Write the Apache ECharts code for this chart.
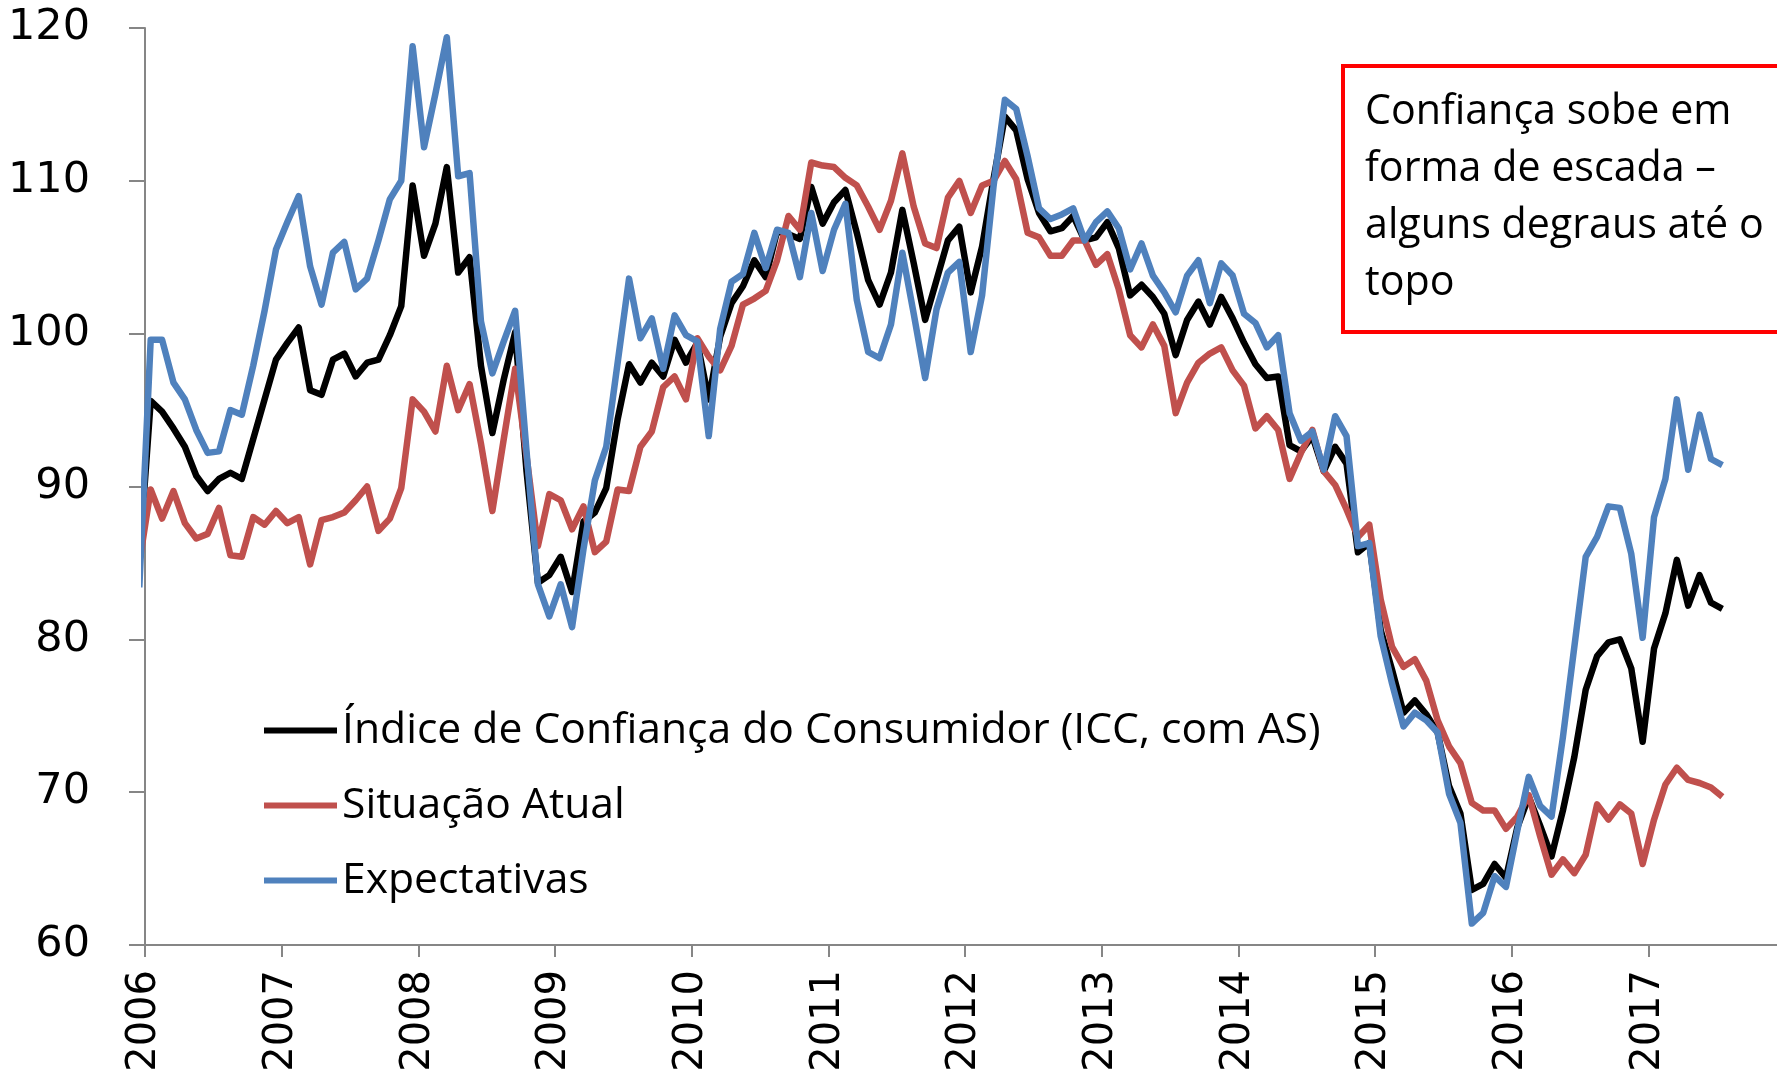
<!DOCTYPE html>
<html>
<head>
<meta charset="utf-8">
<script src="https://cdn.jsdelivr.net/npm/echarts@6/dist/echarts.min.js"></script>
<style>
html,body{margin:0;padding:0;background:#fff;}
#chart{width:1777px;height:1075px;}
</style>
</head>
<body>
<div id="chart"></div>
<script>
// Monthly observations, Dec 2005 (partly visible at the axis) to Jul 2017
const firstYear = 2005, firstMonth = 12;
const yTicks = [60, 70, 80, 90, 100, 110, 120];
const xTickYears = [2006, 2007, 2008, 2009, 2010, 2011, 2012, 2013, 2014, 2015, 2016, 2017, 2018];

const icc = [85.2,
  95.6, 94.9, 93.8, 92.6, 90.7, 89.7, 90.5, 90.9, 90.5, 93.1, 95.7, 98.3,
  99.4, 100.4, 96.3, 96.0, 98.3, 98.7, 97.2, 98.1, 98.3, 99.9, 101.8, 109.7,
  105.1, 107.2, 110.9, 104.0, 105.0, 97.9, 93.5, 97.0, 100.1, 91.0, 83.7, 84.2,
  85.4, 83.1, 87.7, 88.3, 89.9, 94.4, 98.0, 96.8, 98.1, 97.2, 99.6, 98.1,
  99.4, 95.7, 99.8, 102.0, 103.1, 104.8, 103.7, 106.7, 106.5, 106.2, 109.6, 107.2,
  108.6, 109.4, 106.6, 103.5, 101.9, 104.0, 108.1, 104.6, 100.9, 103.5, 106.1, 107.0,
  102.7, 105.7, 110.1, 114.2, 113.3, 110.1, 107.9, 106.7, 106.9, 107.7, 106.1, 106.3,
  107.3, 105.6, 102.5, 103.2, 102.4, 101.3, 98.6, 100.9, 102.1, 100.6, 102.4, 101.0,
  99.4, 98.0, 97.1, 97.2, 92.7, 92.3, 93.3, 91.0, 92.6, 91.5, 85.7, 86.3,
  80.6, 78.0, 75.2, 76.0, 75.1, 73.9, 70.4, 68.6, 63.6, 64.0, 65.3, 64.4,
  67.7, 69.7, 67.8, 65.8, 68.8, 72.3, 76.7, 78.9, 79.8, 80.0, 78.1, 73.3,
  79.4, 81.7, 85.2, 82.2, 84.2, 82.4, 82.0];

const atual = [85.0,
  89.8, 87.9, 89.7, 87.6, 86.6, 86.9, 88.6, 85.5, 85.4, 88.0, 87.5, 88.4,
  87.6, 88.0, 84.9, 87.8, 88.0, 88.3, 89.1, 90.0, 87.1, 87.9, 89.9, 95.7,
  94.9, 93.6, 97.9, 95.0, 96.7, 92.8, 88.4, 93.1, 97.7, 92.0, 86.1, 89.5,
  89.1, 87.2, 88.7, 85.7, 86.4, 89.8, 89.7, 92.6, 93.6, 96.5, 97.2, 95.7,
  99.7, 98.5, 97.6, 99.2, 101.9, 102.3, 102.8, 104.8, 107.7, 106.8, 111.2, 111.0,
  110.9, 110.2, 109.7, 108.3, 106.8, 108.7, 111.8, 108.3, 105.9, 105.6, 108.9, 110.0,
  107.9, 109.7, 110.0, 111.3, 110.1, 106.6, 106.3, 105.1, 105.1, 106.1, 106.1, 104.5,
  105.2, 102.9, 99.9, 99.1, 100.6, 99.2, 94.8, 96.8, 98.1, 98.7, 99.1, 97.6,
  96.6, 93.8, 94.6, 93.7, 90.5, 92.2, 93.7, 91.0, 90.1, 88.5, 86.7, 87.5,
  82.6, 79.5, 78.2, 78.7, 77.3, 74.7, 73.0, 71.9, 69.3, 68.8, 68.8, 67.6,
  68.4, 69.8, 67.1, 64.6, 65.6, 64.7, 65.9, 69.2, 68.2, 69.2, 68.6, 65.3,
  68.2, 70.5, 71.6, 70.8, 70.6, 70.3, 69.7];

const expect = [83.4,
  99.6, 99.6, 96.8, 95.7, 93.7, 92.2, 92.3, 95.0, 94.7, 97.9, 101.5, 105.5,
  107.3, 109.0, 104.4, 101.9, 105.3, 106.0, 102.9, 103.6, 106.1, 108.8, 110.0, 118.8,
  112.2, 115.7, 119.4, 110.3, 110.5, 100.8, 97.4, 99.5, 101.5, 92.3, 83.6, 81.5,
  83.6, 80.8, 85.9, 90.4, 92.6, 98.1, 103.6, 99.7, 101.0, 97.7, 101.2, 99.9,
  99.5, 93.3, 100.3, 103.4, 103.9, 106.6, 104.3, 106.8, 106.6, 103.7, 107.9, 104.1,
  106.8, 108.5, 102.2, 98.8, 98.4, 100.6, 105.3, 101.3, 97.1, 101.6, 104.0, 104.7,
  98.8, 102.5, 109.6, 115.3, 114.7, 111.6, 108.2, 107.5, 107.8, 108.2, 106.1, 107.3,
  108.0, 106.9, 104.2, 105.9, 103.8, 102.7, 101.4, 103.8, 104.8, 102.0, 104.6, 103.8,
  101.3, 100.7, 99.1, 99.9, 94.8, 93.0, 93.6, 91.1, 94.6, 93.3, 86.1, 86.3,
  80.2, 77.1, 74.3, 75.2, 74.7, 73.9, 69.9, 68.0, 61.4, 62.1, 64.5, 63.8,
  67.5, 71.0, 69.1, 68.4, 73.6, 79.5, 85.4, 86.7, 88.7, 88.6, 85.6, 80.1,
  88.0, 90.5, 95.7, 91.1, 94.7, 91.8, 91.4];

const seriesNames = ['Índice de Confiança do Consumidor (ICC, com AS)', 'Situação Atual', 'Expectativas'];
const noteText = ['Confiança sobe em', 'forma de escada –', 'alguns degraus até o', 'topo'];

// month labels, and their position on the year scale (middle of each month)
const months = [];
const monthPos = [];
for (let k = 0; k < icc.length; k++) {
  const m0 = firstMonth - 1 + k;
  const y = firstYear + Math.floor(m0 / 12);
  const m = (m0 % 12) + 1;
  months.push(y + '-' + String(m).padStart(2, '0'));
  monthPos.push(y + (m - 0.5) / 12);
}
const pairs = vals => vals.map((v, i) => [monthPos[i], v]);

// fit the text font so its width matches the reference
const textFont = 'Open Sans';
const mctx = document.createElement('canvas').getContext('2d');
function fitSize(str, targetWidth) {
  mctx.font = '40px "' + textFont + '"';
  return 40 * targetWidth / mctx.measureText(str).width;
}
const legendSize = fitSize(seriesNames[0], 979);
const noteSize = fitSize(noteText[2], 399);

const chart = echarts.init(document.getElementById('chart'), null, {renderer: 'canvas'});
const axisColor = '#868686';
const tickFont = 'DejaVu Sans';

const option = {
  backgroundColor: '#ffffff',
  animation: false,
  grid: {left: 145, right: -8, top: 28, bottom: 130, containLabel: false, outerBoundsMode: 'none'},
  xAxis: {
    type: 'value',
    min: xTickYears[0],
    max: xTickYears[xTickYears.length - 1],
    interval: 1,
    axisLine: {show: true, lineStyle: {color: axisColor, width: 2}},
    axisTick: {show: true, length: 12, lineStyle: {color: axisColor, width: 2}},
    splitLine: {show: false},
    axisLabel: {
      rotate: 90, margin: 25, color: '#000', fontFamily: tickFont, fontSize: 40,
      showMaxLabel: false, hideOverlap: false,
      formatter: v => String(v)
    }
  },
  yAxis: {
    type: 'value',
    min: yTicks[0],
    max: yTicks[yTicks.length - 1],
    interval: 10,
    axisLine: {show: true, lineStyle: {color: axisColor, width: 2}},
    axisTick: {show: true, length: 16, lineStyle: {color: axisColor, width: 2}},
    splitLine: {show: false},
    axisLabel: {margin: 55, color: '#000', fontFamily: tickFont, fontSize: 43}
  },
  legend: {
    orient: 'vertical',
    left: 259,
    top: 704,
    icon: 'rect',
    itemWidth: 73,
    itemHeight: 6,
    itemGap: 32,
    data: seriesNames,
    textStyle: {fontFamily: textFont, fontSize: legendSize, color: '#000', lineHeight: 40}
  },
  series: [
    {name: seriesNames[0], type: 'line', data: pairs(icc), symbol: 'none', z: 2,
     lineStyle: {color: '#000000', width: 6.5, join: 'round'}, itemStyle: {color: '#000000'}},
    {name: seriesNames[1], type: 'line', data: pairs(atual), symbol: 'none', z: 3,
     lineStyle: {color: '#C0504D', width: 6.5, join: 'round'}, itemStyle: {color: '#C0504D'}},
    {name: seriesNames[2], type: 'line', data: pairs(expect), symbol: 'none', z: 4,
     lineStyle: {color: '#4F81BD', width: 6.5, join: 'round'}, itemStyle: {color: '#4F81BD'}}
  ],
  graphic: [
    {type: 'rect', left: 1341, top: 64, z: 10,
     shape: {width: 480, height: 266},
     style: {fill: '#ffffff', stroke: '#FF0000', lineWidth: 4}},
    {type: 'text', left: 1365, top: 84, z: 11,
     style: {text: noteText.join('\n'), fill: '#000', font: noteSize.toFixed(1) + 'px "' + textFont + '"', lineHeight: 57}}
  ]
};
chart.setOption(option);
</script>
</body>
</html>
